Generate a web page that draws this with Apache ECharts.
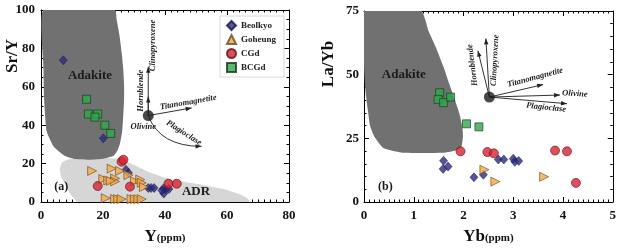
<!DOCTYPE html>
<html>
<head>
<meta charset="utf-8">
<script src="https://cdn.jsdelivr.net/npm/echarts@6/dist/echarts.min.js"></script>
<style>
html, body { margin: 0; padding: 0; background: #fff; }
#chart { width: 619px; height: 250px; }
</style>
</head>
<body>
<div id="chart"></div>
<script>
// (a) Y (ppm) vs Sr/Y
const beolkyoA = [[7.2, 73.8], [20.1, 33.2], [27.4, 16.8], [28.2, 15.2], [34.6, 7.3], [35.5, 7.3], [36.5, 7.3], [39.5, 7], [40.3, 6.5], [41.3, 6.8], [39.6, 4.4], [39, 6]];
const goheungA = [[16.5, 16.2], [22.8, 17.4], [25.5, 16.2], [28.2, 14], [20.1, 12], [21.7, 11.2], [23.9, 12.3], [23.9, 10.7], [22.5, 11], [30.3, 10.8], [32, 11.7], [32.5, 10], [33.2, 7.8], [20.9, 2], [23.9, 1.5], [24.9, 1.5], [26, 1.5], [29.2, 1.5], [30.3, 1.5], [31.4, 1.5], [32.5, 1.5]];
const cgdA = [[26, 21], [26.6, 22], [18.3, 8.3], [28.7, 8], [41.1, 9.5], [43.8, 9.5]];
const bcgdA = [[14.7, 53.5], [15.3, 45.8], [18.3, 45.8], [17.4, 44.2], [20.6, 40], [22.5, 35.7]];
const adakiteA = [[0.8, 100], [0.8, 70], [1, 54], [1.8, 37], [4, 29], [6, 26], [7.7, 24], [11, 22.4], [16, 22], [20, 22.5], [23.3, 23.9], [24.7, 27], [25.5, 30.6], [26.2, 37], [26.5, 44], [26.8, 53], [26.8, 61], [26.5, 70], [26, 78], [25.3, 87], [24.4, 95], [23.9, 100]];
const adrA = [[12, 0], [9.5, 4], [8, 8.6], [6.5, 13], [6.1, 17], [6.7, 20.5], [9, 22.3], [13, 22.8], [20, 23], [25.5, 22.2], [28.5, 20.5], [31.9, 17.9], [35.5, 15.2], [39.5, 12.9], [45, 11], [50.2, 9.5], [55, 8], [59, 6.8], [62, 5.2], [64.5, 3.8], [66.5, 2], [67.3, 0.5], [67, 0]];
const centerA = [[34.6, 45]];
const arrowsA = [[34.6, 45, 34.6, 70.5], [34.6, 45, 34.6, 55], [34.6, 45, 48.6, 49]];
const curveA = [[34.6, 45, 51.8, 29, 38.4, 28.9]];

// (b) Yb (ppm) vs La/Yb
const beolkyoB = [[1.6, 16.2], [1.59, 13], [1.69, 13.9], [2.7, 16.7], [2.81, 16.7], [3.0, 17], [3.03, 15.8], [3.11, 16.1], [2.21, 9.7], [2.4, 10.7]];
const goheungB = [[2.42, 12.7], [2.64, 8], [3.62, 9.9]];
const cgdB = [[1.94, 19.9], [2.48, 19.6], [2.61, 19.1], [3.84, 20.2], [4.08, 19.9], [4.26, 7.5]];
const bcgdB = [[1.52, 42.9], [1.49, 40.3], [1.6, 39], [1.74, 41.2], [2.06, 30.7], [2.31, 29.5]];
const adakiteB = [[0, 75], [1.15, 75], [1.3, 67], [1.46, 60], [1.6, 53], [1.72, 46], [1.83, 40], [1.92, 34.6], [1.98, 29], [1.99, 25.6], [1.96, 21.8], [1.88, 20.5], [1.8, 20], [1.6, 19.3], [0.8, 19.3], [0.55, 20.2], [0.38, 21.3], [0.21, 25.6], [0.12, 30], [0.08, 35.8], [0.03, 43.5], [0, 53.7]];
const centerB = [[2.52, 41.2]];
const arrowsB = [[2.52, 41.2, 2.29, 59.4], [2.52, 41.2, 2.45, 64.2], [2.52, 41.2, 3.6, 46.1], [2.52, 41.2, 3.94, 42], [2.52, 41.2, 4.08, 38.6]];

// text notes: [text, x, y, rotation deg, kind]
const notesA = [['Adakite', 15.8, 65.8, 0, 'big'], ['ADR', 50, 5.2, 0, 'big'], ['(a)', 6.5, 7.8, 0, 'tag'],
  ['Hornblende', 32.2, 58, 90, 'it'], ['Clinopyroxene', 36.2, 81.5, 90, 'it'], ['Titanomagnetite', 47.5, 51.9, 10, 'it'],
  ['Olivine', 33, 39, 0, 'it'], ['Plagioclase', 46.1, 36, -32, 'it']];
const notesB = [['Adakite', 0.8, 49.9, 0, 'big'], ['(b)', 0.43, 5.9, 0, 'tag'],
  ['Hornblende', 2.18, 53.7, 97, 'it'], ['Clinopyroxene', 2.63, 55.6, 87, 'it'], ['Titanomagnetite', 3.44, 48.9, 15, 'it'],
  ['Olivine', 4.24, 42.5, -3, 'it'], ['Plagioclase', 3.66, 37.1, -6, 'it']];

const SERIF = '"Liberation Serif", "Times New Roman", serif';
const FONTS = {
  big: 'bold 13px ' + SERIF,
  tag: 'bold 12px ' + SERIF,
  it: 'italic bold 8.5px ' + SERIF
};

const chart = echarts.init(document.getElementById('chart'));

function region(idx, pts, color) {
  return {
    type: 'custom', xAxisIndex: idx * 2, yAxisIndex: idx * 2, data: [0], silent: true, z: 1, clip: true,
    renderItem: (params, api) => ({
      type: 'polygon',
      shape: { points: pts.map(p => api.coord(p)), smooth: 0.15 },
      style: { fill: color }
    })
  };
}

function head(p0, p1) {
  const a = Math.atan2(p1[1] - p0[1], p1[0] - p0[0]);
  const L = 6, W = 2.2;
  const bx = p1[0] - L * Math.cos(a), by = p1[1] - L * Math.sin(a);
  return [p1, [bx + W * Math.sin(a), by - W * Math.cos(a)], [bx - W * Math.sin(a), by + W * Math.cos(a)]];
}

function arrows(idx, list) {
  return {
    type: 'custom', xAxisIndex: idx * 2, yAxisIndex: idx * 2, data: list, silent: true, z: 4,
    renderItem: (params, api) => {
      const p0 = api.coord([api.value(0), api.value(1)]);
      const p1 = api.coord([api.value(2), api.value(3)]);
      return {
        type: 'group', children: [
          { type: 'line', shape: { x1: p0[0], y1: p0[1], x2: p1[0], y2: p1[1] }, style: { stroke: '#333', lineWidth: 1 } },
          { type: 'polygon', shape: { points: head(p0, p1) }, style: { fill: '#222' } }
        ]
      };
    }
  };
}

function curve(idx, list) {
  return {
    type: 'custom', xAxisIndex: idx * 2, yAxisIndex: idx * 2, data: list, silent: true, z: 4,
    renderItem: (params, api) => {
      const p0 = api.coord([api.value(0), api.value(1)]);
      const p1 = api.coord([api.value(2), api.value(3)]);
      const c = api.coord([api.value(4), api.value(5)]);
      return {
        type: 'group', children: [
          { type: 'bezierCurve', shape: { x1: p0[0], y1: p0[1], x2: p1[0], y2: p1[1], cpx1: c[0], cpy1: c[1] }, style: { stroke: '#333', lineWidth: 1, fill: null } },
          { type: 'polygon', shape: { points: head(c, p1) }, style: { fill: '#222' } }
        ]
      };
    }
  };
}

function notes(idx, list) {
  return {
    type: 'custom', xAxisIndex: idx * 2, yAxisIndex: idx * 2, data: list.map(n => [n[1], n[2]]), silent: true, z: 6,
    renderItem: (params, api) => {
      const n = list[params.dataIndex];
      const p = api.coord([api.value(0), api.value(1)]);
      return {
        type: 'text', x: p[0], y: p[1], rotation: n[3] * Math.PI / 180,
        style: { text: n[0], font: FONTS[n[4]], fill: '#1a1a1a', align: 'center', verticalAlign: 'middle' }
      };
    }
  };
}

const styles = {
  Beolkyo: { symbol: 'diamond', symbolSize: [8, 9], itemStyle: { color: '#2c2a7c', borderColor: '#15134a', borderWidth: 0.6 } },
  Goheung: { symbol: 'triangle', symbolRotate: -90, symbolSize: 9, itemStyle: { color: '#f2a94a', borderColor: '#6b4a1a', borderWidth: 0.8 } },
  CGd: { symbol: 'circle', symbolSize: 9, itemStyle: { color: '#d8222f', borderColor: '#5e1018', borderWidth: 0.8 } },
  BCGd: { symbol: 'rect', symbolSize: 8, itemStyle: { color: '#2ea84b', borderColor: '#17361c', borderWidth: 0.8 } }
};

function pts(idx, name, data) {
  return Object.assign({ type: 'scatter', name: name, xAxisIndex: idx * 2, yAxisIndex: idx * 2, data: data, z: 5 }, styles[name]);
}

function dot(idx, data) {
  return { type: 'scatter', xAxisIndex: idx * 2, yAxisIndex: idx * 2, data: data, symbolSize: 11, z: 5, itemStyle: { color: '#1a1a1a' } };
}

function axis(grid, pos, min, max, interval, split, labels, extra) {
  return Object.assign({
    type: 'value', gridIndex: grid, position: pos, min: min, max: max, interval: interval,
    axisLine: { show: true, onZero: false, lineStyle: { color: '#000', width: 1 } },
    axisTick: { show: true, inside: true, length: 5, lineStyle: { color: '#000' } },
    minorTick: { show: true, splitNumber: split, length: 2.5, lineStyle: { color: '#000' } },
    splitLine: { show: false },
    axisLabel: { show: labels, fontFamily: SERIF, fontWeight: 'bold', fontSize: 13, color: '#111', margin: 7 }
  }, extra || {});
}

function xName(big, small) {
  return {
    name: '{a|' + big + '}{b|(ppm)}', nameLocation: 'middle', nameGap: 26,
    nameTextStyle: { rich: {
      a: { fontFamily: SERIF, fontWeight: 'bold', fontSize: 17, color: '#111' },
      b: { fontFamily: SERIF, fontWeight: 'bold', fontSize: 11, color: '#111', padding: [4, 0, 0, 0] }
    } }
  };
}

chart.setOption({
  animation: false,
  backgroundColor: '#fff',
  grid: [
    { left: 41, top: 10, width: 248, height: 197 },
    { left: 364, top: 11, width: 249, height: 196 }
  ],
  xAxis: [
    axis(0, 'bottom', 0, 80, 20, 10, true, xName('Y')),
    axis(0, 'top', 0, 80, 20, 10, false),
    axis(1, 'bottom', 0, 5, 1, 10, true, xName('Yb')),
    axis(1, 'top', 0, 5, 1, 10, false)
  ],
  yAxis: [
    axis(0, 'left', 0, 100, 20, 4, true, { axisLabel: { fontFamily: SERIF, fontWeight: 'bold', fontSize: 13, color: '#111', margin: 6 } }),
    axis(0, 'right', 0, 100, 20, 4, false),
    axis(1, 'left', 0, 75, 25, 5, true, { axisLabel: { fontFamily: SERIF, fontWeight: 'bold', fontSize: 13, color: '#111', margin: 5 } }),
    axis(1, 'right', 0, 75, 25, 5, false)
  ],
  legend: {
    data: ['Beolkyo', 'Goheung', 'CGd', 'BCGd'],
    orient: 'vertical', left: 220, top: 16,
    itemWidth: 9, itemHeight: 9, itemGap: 3, padding: [4, 8, 4, 6],
    borderColor: '#d8d8d8', borderWidth: 1, backgroundColor: '#fff',
    textStyle: { fontFamily: SERIF, fontWeight: 'bold', fontSize: 9, color: '#222' },
    selectedMode: false
  },
  graphic: [
    { type: 'text', x: 13, y: 56, rotation: Math.PI / 2, style: { text: 'Sr/Y', font: 'bold 17px ' + SERIF, fill: '#111', align: 'center', verticalAlign: 'middle' } },
    { type: 'text', x: 329, y: 64, rotation: Math.PI / 2, style: { text: 'La/Yb', font: 'bold 17px ' + SERIF, fill: '#111', align: 'center', verticalAlign: 'middle' } }
  ],
  series: [
    region(0, adrA, '#d6d6d6'),
    region(0, adakiteA, '#717171'),
    region(1, adakiteB, '#717171'),
    arrows(0, arrowsA),
    curve(0, curveA),
    arrows(1, arrowsB),
    dot(0, centerA),
    dot(1, centerB),
    pts(0, 'Beolkyo', beolkyoA),
    pts(0, 'Goheung', goheungA),
    pts(0, 'CGd', cgdA),
    pts(0, 'BCGd', bcgdA),
    pts(1, 'Beolkyo', beolkyoB),
    pts(1, 'Goheung', goheungB),
    pts(1, 'CGd', cgdB),
    pts(1, 'BCGd', bcgdB),
    notes(0, notesA),
    notes(1, notesB)
  ]
});
</script>
</body>
</html>
